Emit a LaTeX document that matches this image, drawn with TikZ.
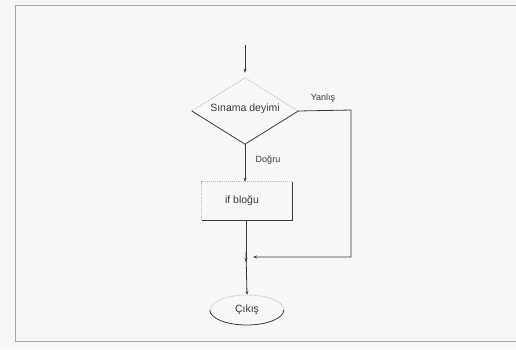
\documentclass[tikz,border=0pt]{standalone}
\usepackage{fontspec}
\setmainfont{Liberation Sans}
\usetikzlibrary{shapes.geometric,arrows.meta}
\definecolor{ink}{HTML}{3A3A3A}
\definecolor{faint}{HTML}{BDBDBD}
\definecolor{paper}{HTML}{F7F7F5}
\begin{document}
\begin{tikzpicture}[x=1pt,y=-1pt,
  lbl/.style={font=\fontsize{10.5}{12}\selectfont, text=ink, inner sep=0pt},
  small/.style={font=\fontsize{9}{11}\selectfont, text=ink, inner sep=0pt},
  conn/.style={draw=ink, line width=0.8pt},
  arr/.style={conn, -{Stealth[length=4pt,width=3pt]}},
  dim/.style={draw=faint, line width=0.9pt, densely dotted}]
\fill[paper] (0,0) rectangle (516,349);
\useasboundingbox (0,0) rectangle (516,349);
\draw[draw=gray!70, line width=0.8pt] (15,5) rectangle (530,341);
% nodes
\node[diamond, minimum width=106pt, minimum height=66pt, inner sep=0pt] (d) at (245,111) {};
\node[lbl] (dt) at (245,109) {Sınama deyimi};
\node[rectangle, minimum width=90pt, minimum height=38pt, inner sep=0pt] (r) at (247,201) {};
\node[lbl] (rt) at (242,201) {if bloğu};
\node[ellipse, minimum width=74pt, minimum height=30pt, inner sep=0pt] (e) at (247,310) {};
\node[lbl] (et) at (247,310) {Çıkış};
\node[small] (no) at (323,98) {Yanlış};
\node[small] (yes) at (268,160) {Doğru};
% partial outlines
\draw[dim] (d.west) -- (d.north) -- (d.east);
\draw[conn] (d.west) -- (d.south) -- (d.east);
\draw[dim] (r.south west) -- (r.north west) -- (r.north east);
\draw[conn] (r.north east) -- (r.south east) -- (r.south west);
\draw[dim] (e.east) arc[start angle=0, end angle=180, x radius=37pt, y radius=15pt];
\draw[conn] (e.west) arc[start angle=180, end angle=360, x radius=37pt, y radius=15pt];
% connectors
\coordinate (start) at (245,45);
\coordinate (j) at (246,257);
\coordinate (rr) at (351,110);
\coordinate (rb) at (351,257);
\draw[arr, shorten >=5pt] (start) -- (d.north);
\draw[arr] (d.south) -- (r.north -| d.south);
\draw[arr] (r.south -| j) -- ([yshift=-5pt]j);
\draw[conn] ([yshift=-5pt]j) -- (j);
\draw[arr] ([yshift=5pt]j) -- (e.north);
\draw[arr] (d.east) -- (rr) -- (rb) -- ([xshift=7pt]j);
\end{tikzpicture}
\end{document}
